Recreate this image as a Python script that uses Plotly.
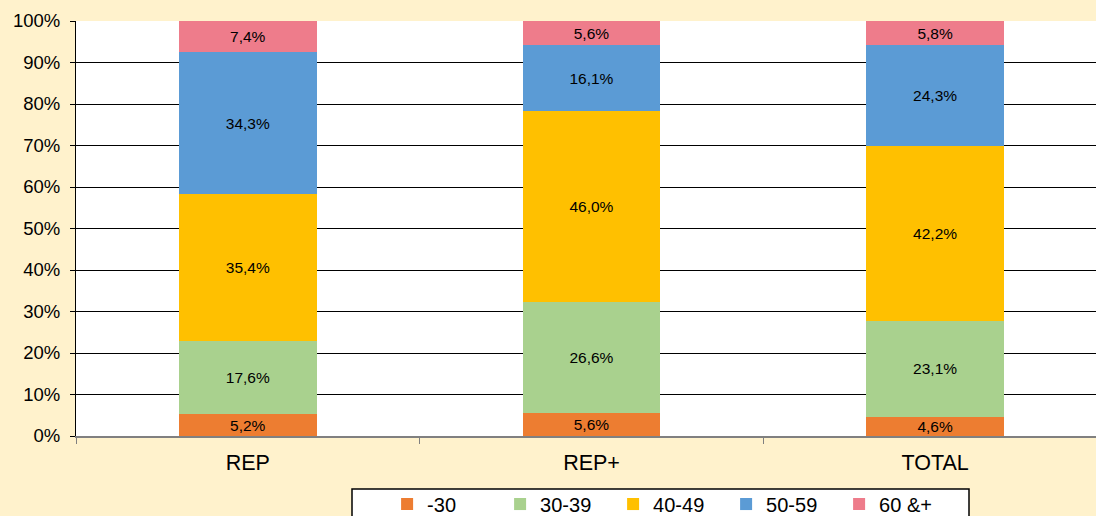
import plotly.graph_objects as go

categories = ['REP', 'REP+', 'TOTAL']
series_names = ['-30', '30-39', '40-49', '50-59', '60 &+']
values = {
    '-30': [5.2, 5.6, 4.6],
    '30-39': [17.6, 26.6, 23.1],
    '40-49': [35.4, 46.0, 42.2],
    '50-59': [34.3, 16.1, 24.3],
    '60 &+': [7.4, 5.6, 5.8],
}
colors = ['#ED7D31', '#A9D18E', '#FFC000', '#5B9BD5', '#EE7C8B']

fig = go.Figure()
for name, col in zip(series_names, colors):
    vals = values[name]
    fig.add_trace(go.Bar(
        x=categories,
        y=vals,
        name=name,
        marker=dict(color=col, line=dict(width=0)),
        text=[f"{v:.1f}%".replace('.', ',') for v in vals],
        textposition='inside',
        insidetextanchor='middle',
        textangle=0,
        constraintext='none',
        cliponaxis=False,
        textfont=dict(size=15.5, color='black'),
        hoverinfo='skip',
    ))

# legend frame (Excel style box, wider than its items)
fig.add_shape(type='rect', xref='paper', yref='paper',
              x0=(352 - 76) / 1020, x1=(969 - 76) / 1020,
              y0=-0.128, y1=-0.3,
              fillcolor='white', line=dict(color='black', width=1.5))

fig.update_layout(
    barmode='stack',
    bargap=0.6,
    width=1096,
    height=516,
    margin=dict(l=76, r=0, t=21, b=80, autoexpand=False),
    paper_bgcolor='#FFF2CC',
    plot_bgcolor='white',
    font=dict(family='Liberation Sans, Arial', color='black'),
    showlegend=True,
    legend=dict(
        orientation='h',
        x=0.305, xanchor='left',
        y=-0.117, yanchor='top',
        bgcolor='rgba(0,0,0,0)',
        borderwidth=0,
        font=dict(size=20),
        entrywidth=68,
        entrywidthmode='pixels',
        traceorder='normal',
        itemwidth=30,
    ),
)

fig.update_xaxes(
    range=[-0.5, 2.468],
    tickson='boundaries',
    ticks='outside',
    ticklen=6,
    tickcolor='#808080',
    showline=True,
    linecolor='#808080',
    linewidth=2,
    tickfont=dict(size=21.5),
    ticklabelstandoff=6,
    showgrid=False,
)
fig.update_yaxes(
    range=[0, 100],
    dtick=10,
    ticksuffix='%',
    ticks='outside',
    ticklen=5,
    tickcolor='black',
    showline=True,
    linecolor='black',
    linewidth=1,
    gridcolor='black',
    gridwidth=1,
    tickfont=dict(size=18.5),
    ticklabelstandoff=6,
    zeroline=False,
)

fig.write_html("out.html", config={'displayModeBar': False},
               post_script="document.body.style.margin='0';")
